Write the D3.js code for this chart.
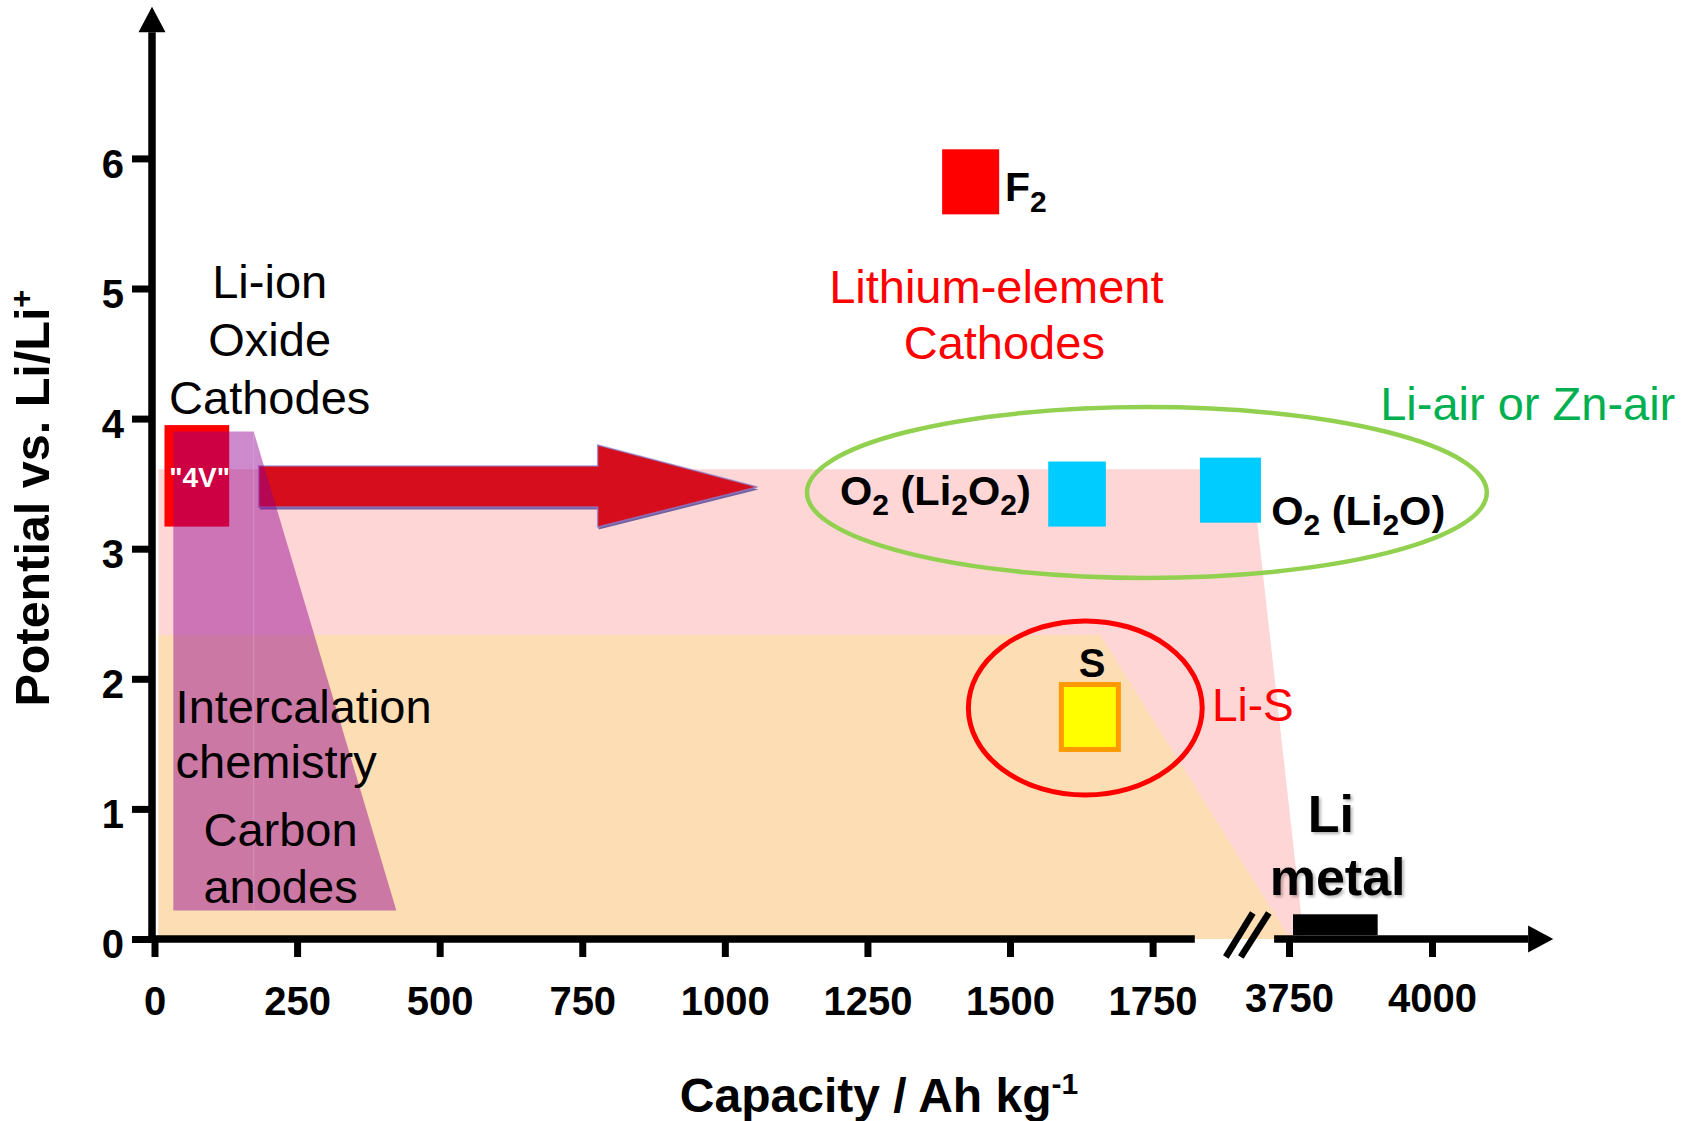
<!DOCTYPE html>
<html><head><meta charset="utf-8">
<script src="https://cdn.jsdelivr.net/npm/d3@7"></script>
<style>
html,body{margin:0;padding:0;background:#fff;}
svg{display:block;}
text{font-family:"Liberation Sans",Arial,Helvetica,sans-serif;}
</style></head><body>
<svg id="chart" width="1700" height="1121"></svg>
<script>
// ---------------- data ----------------
const yTicks = [0, 1, 2, 3, 4, 5, 6];
const xTicksLow = [0, 250, 500, 750, 1000, 1250, 1500, 1750];
const xTicksHigh = [3750, 4000];

// shaded regions (capacity Ah/kg , potential V)
const pinkCap = [7, 7, 1923, 3776];
const pinkPot = [0, 3.61, 3.61, 0];
const orangeCap = [7, 7, 1658, 3752];
const orangePot = [0, 2.337, 2.337, 0];
const purpleCap = [33, 33, 174, 424];
const purplePot = [0.22, 3.90, 3.90, 0.22];

// big arrow outline
const arrowCap = [183, 777, 777, 1057, 777, 777, 183];
const arrowPot = [3.636, 3.636, 3.797, 3.474, 3.167, 3.32, 3.32];

// material markers
const materials = ["4V", "F2", "O2 (Li2O2)", "O2 (Li2O)", "S", "Li metal"];
const capLow  = [17.5, 1381, 1567, 1833, 1590, 3757];
const capHigh = [131, 1481, 1668, 1940, 1690, 3905];
const potLow  = [3.17, 5.57, 3.17, 3.20, 1.457, 0.03];
const potHigh = [3.95, 6.07, 3.67, 3.70, 1.956, 0.19];

// grouping ellipses
const groups = ["Li-air or Zn-air", "Li-S"];
const groupCap = [1740, 1632];
const groupPot = [3.432, 1.776];
const groupRadCap = [596, 205];
const groupRadPot = [0.657, 0.669];

// axis extents (data units)
const yAxisTip = 7.165, yAxisBase = 6.97;
const xBreakLow = 1824, xBreakHigh = 3724, xAxisBase = 4168, xAxisTip = 4212;

// ---------------- styles ----------------
const markerFill   = ["#FF0000", "#FF0000", "#00CCFF", "#00CCFF", "#FFFF00", "#000000"];
const markerStroke = ["none", "none", "none", "none", "#FF9900", "none"];
const groupColor   = ["#92D050", "#FF0000"];

// ---------------- scales ----------------
const svg = d3.select("#chart");
const y = d3.scaleLinear().domain([0, 6]).range([939, 158.4]);
const xLo = d3.scaleLinear().domain([0, 1750]).range([154.5, 1152.6]);
const xHi = d3.scaleLinear().domain([3750, 4000]).range([1289, 1432]);
const X = v => (v < 2800 ? xLo(v) : xHi(v));
const poly = (caps, pots) => caps.map((c, i) => [X(c), y(pots[i])].join(",")).join(" ");

const defs = svg.append("defs");
const f = defs.append("filter").attr("id", "tshadow").attr("x", "-20%").attr("y", "-20%").attr("width", "140%").attr("height", "140%");
f.append("feDropShadow").attr("dx", 2).attr("dy", 2).attr("stdDeviation", 1.5)
  .attr("flood-color", "#000").attr("flood-opacity", 0.3);

// ---------------- regions ----------------
svg.append("polygon").attr("points", poly(pinkCap, pinkPot)).attr("fill", "#FFD6D6");
svg.append("polygon").attr("points", poly(orangeCap, orangePot)).attr("fill", "#FDDEB4");

// markers
const mk = svg.append("g");
materials.forEach((m, i) => {
  const sw = markerStroke[i] === "none" ? 0 : 5;
  mk.append("rect")
    .attr("x", X(capLow[i])).attr("y", y(potHigh[i]))
    .attr("width", X(capHigh[i]) - X(capLow[i]))
    .attr("height", y(potLow[i]) - y(potHigh[i]))
    .attr("fill", markerFill[i])
    .attr("stroke", markerStroke[i]).attr("stroke-width", sw);
});

// big arrow (shadow + body)
svg.append("polygon").attr("points", poly(arrowCap, arrowPot))
  .attr("fill", "#5E4E96").attr("opacity", 0.85).attr("transform", "translate(1,2.5)");
svg.append("polygon").attr("points", poly(arrowCap, arrowPot))
  .attr("fill", "#D50D1C").attr("stroke", "rgba(140,130,210,0.7)").attr("stroke-width", 1.5);

// purple intercalation region
svg.append("polygon").attr("points", poly(purpleCap, purplePot))
  .attr("fill", "rgb(146,0,146)").attr("fill-opacity", 0.46);
svg.append("line")
  .attr("x1", X(purpleCap[2])).attr("x2", X(purpleCap[2]))
  .attr("y1", y(purplePot[2]) + 2).attr("y2", y(purplePot[3]))
  .attr("stroke", "rgba(255,255,255,0.18)").attr("stroke-width", 1);

// ellipses
groups.forEach((gname, i) => {
  svg.append("ellipse")
    .attr("cx", X(groupCap[i])).attr("cy", y(groupPot[i]))
    .attr("rx", xLo(groupRadCap[i]) - xLo(0)).attr("ry", y(0) - y(groupRadPot[i]))
    .attr("fill", "none").attr("stroke", groupColor[i]).attr("stroke-width", i === 0 ? 4.5 : 5);
});

// ---------------- axes ----------------
const axisG = svg.append("g");
const axY = d3.axisLeft(y).tickValues(yTicks).tickSize(20).tickPadding(8).tickFormat(d3.format("d"));
const gY = axisG.append("g").attr("transform", "translate(152,0)").call(axY);
gY.select(".domain").remove();
gY.selectAll(".tick line").attr("stroke", "#000").attr("stroke-width", 7);
gY.selectAll(".tick text").attr("font-size", 40).attr("font-weight", "bold").attr("fill", "#000").attr("dy", "0.47em");

const axXlo = d3.axisBottom(xLo).tickValues(xTicksLow).tickSize(18).tickPadding(30).tickFormat(d3.format("d"));
const gX1 = axisG.append("g").attr("transform", "translate(0,939)").call(axXlo);
const axXhi = d3.axisBottom(xHi).tickValues(xTicksHigh).tickSize(18).tickPadding(27).tickFormat(d3.format("d"));
const gX2 = axisG.append("g").attr("transform", "translate(0,939)").call(axXhi);
[gX1, gX2].forEach(g => {
  g.select(".domain").remove();
  g.selectAll(".tick line").attr("stroke", "#000").attr("stroke-width", 7);
  g.selectAll(".tick text").attr("font-size", 40).attr("font-weight", "bold").attr("fill", "#000");
});

// axis lines
axisG.append("line").attr("x1", 152).attr("x2", 152).attr("y1", y(0) + 3.5).attr("y2", y(yAxisBase))
  .attr("stroke", "#000").attr("stroke-width", 7.5);
axisG.append("polygon")
  .attr("points", [[152, y(yAxisTip)], [138.5, y(yAxisBase)], [165.5, y(yAxisBase)]].join(" "))
  .attr("fill", "#000");
axisG.append("line").attr("x1", 148.5).attr("x2", X(xBreakLow)).attr("y1", y(0)).attr("y2", y(0))
  .attr("stroke", "#000").attr("stroke-width", 7.5);
axisG.append("line").attr("x1", X(xBreakHigh)).attr("x2", X(xAxisBase)).attr("y1", y(0)).attr("y2", y(0))
  .attr("stroke", "#000").attr("stroke-width", 7.5);
axisG.append("polygon")
  .attr("points", [[X(xAxisTip), y(0)], [X(xAxisBase), y(0) - 13.5], [X(xAxisBase), y(0) + 13.5]].join(" "))
  .attr("fill", "#000");
// break marks
const bx = X(xBreakLow);
[[31, 58], [46, 74]].forEach(([a, b]) => {
  axisG.append("line").attr("x1", bx + a).attr("y1", y(0) + 18).attr("x2", bx + b).attr("y2", y(0) - 26)
    .attr("stroke", "#000").attr("stroke-width", 6.5);
});

// ---------------- text ----------------
function rich(g, x, yy, parts, o) {
  const t = g.append("text").attr("x", x).attr("y", yy)
    .attr("font-size", o.size).attr("font-weight", o.weight || "normal")
    .attr("fill", o.fill || "#000").attr("text-anchor", o.anchor || "start");
  let shift = 0;
  parts.forEach(p => {
    const [s, kind] = Array.isArray(p) ? p : [p, null];
    const ts = t.append("tspan").text(s);
    const target = kind === "sub" ? o.subDy : kind === "sup" ? -o.supDy : 0;
    if (target - shift !== 0) ts.attr("dy", target - shift);
    shift = target;
    if (kind) ts.attr("font-size", o.subSize);
  });
  return t;
}
const T = svg.append("g");

// axis titles
const yt = T.append("g").attr("transform", "translate(49,498) rotate(-90)");
rich(yt, 0, 0, ["Potential vs. Li/Li", ["+", "sup"]], { size: 48.5, weight: "bold", anchor: "middle", subSize: 31, supDy: 17 });
rich(T, 879, 1112, ["Capacity / Ah kg", ["-1", "sup"]], { size: 48, weight: "bold", anchor: "middle", subSize: 30, supDy: 18 });

// Li-ion oxide cathodes
["Li-ion", "Oxide", "Cathodes"].forEach((s, i) => {
  T.append("text").attr("x", X(202)).attr("y", y([4.927, 4.481, 4.035][i])).attr("text-anchor", "middle")
    .attr("font-size", 47).text(s);
});
// Lithium-element cathodes
T.append("text").attr("x", X(1476)).attr("y", y(4.889)).attr("text-anchor", "middle").attr("font-size", 47).attr("fill", "#FF0000").text("Lithium-element");
T.append("text").attr("x", X(1490)).attr("y", y(4.46)).attr("text-anchor", "middle").attr("font-size", 47).attr("fill", "#FF0000").text("Cathodes");
// F2
rich(T, X(1491), y(5.673), ["F", ["2", "sub"]], { size: 41, weight: "bold", subSize: 30, subDy: 11 });
// Li-air
T.append("text").attr("x", X(2149)).attr("y", y(3.989)).attr("font-size", 47).attr("fill", "#00B050").text("Li-air or Zn-air");
// O2 labels
rich(T, X(1202), y(3.336), ["O", ["2", "sub"], " (Li", ["2", "sub"], "O", ["2", "sub"], ")"], { size: 41.5, weight: "bold", subSize: 30, subDy: 10 });
rich(T, X(1958), y(3.182), ["O", ["2", "sub"], " (Li", ["2", "sub"], "O)"], { size: 41.5, weight: "bold", subSize: 30, subDy: 10 });
// S
T.append("text").attr("x", X(1644)).attr("y", y(2.014)).attr("text-anchor", "middle").attr("font-size", 40).attr("font-weight", "bold").text("S");
T.append("text").attr("x", X(1854)).attr("y", y(1.676)).attr("font-size", 46).attr("fill", "#FF0000").text("Li-S");
// intercalation
T.append("text").attr("x", X(37)).attr("y", y(1.664)).attr("font-size", 47).text("Intercalation");
T.append("text").attr("x", X(37)).attr("y", y(1.2375)).attr("font-size", 47).text("chemistry");
T.append("text").attr("x", X(221)).attr("y", y(0.715)).attr("text-anchor", "middle").attr("font-size", 47).text("Carbon");
T.append("text").attr("x", X(221)).attr("y", y(0.277)).attr("text-anchor", "middle").attr("font-size", 47).text("anodes");
// Li metal
T.append("text").attr("x", X(3823)).attr("y", y(0.822)).attr("text-anchor", "middle").attr("font-size", 52).attr("font-weight", "bold").attr("filter", "url(#tshadow)").text("Li");
T.append("text").attr("x", X(3835)).attr("y", y(0.338)).attr("text-anchor", "middle").attr("font-size", 52).attr("font-weight", "bold").attr("filter", "url(#tshadow)").text("metal");
// 4V
T.append("text").attr("x", X(79)).attr("y", y(3.474)).attr("text-anchor", "middle").attr("font-size", 28).attr("font-weight", "bold").attr("fill", "#fff").text("\"4V\"");
</script>
</body></html>
